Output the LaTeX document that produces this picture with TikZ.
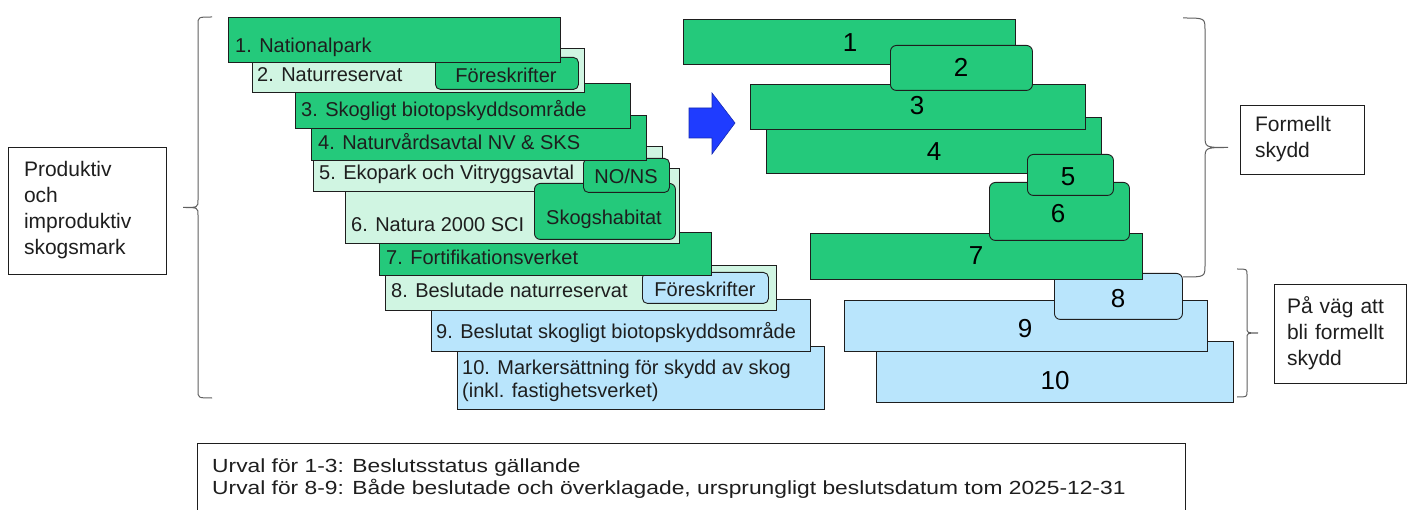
\documentclass[tikz,border=0pt]{standalone}
\usepackage{fontspec}
\setmainfont{Liberation Sans}
\newfontfamily\widefont[FakeStretch=1.2]{Liberation Sans}
\definecolor{dkgreen}{HTML}{24C97B}
\definecolor{ltgreen}{HTML}{D0F5E2}
\definecolor{ltblue}{HTML}{B9E5FC}
\definecolor{arrowblue}{HTML}{1F3CFF}
\definecolor{edge}{HTML}{1E1E1E}
% brace: end x, line x, tip x, top y, bottom y
\newcommand{\sidebrace}[5]{%
    \pgfmathsetmacro\ym{(#4+#5)/2}%
    \pgfmathsetmacro\bv{0.55*abs(#2-#1)}%
    \draw[brc] (#1,#4) .. controls (#2,#4) .. (#2,{#4+\bv}) -- (#2,{\ym-\bv})
        .. controls (#2,\ym) .. (#3,\ym) .. controls (#2,\ym) .. (#2,{\ym+\bv})
        -- (#2,{#5-\bv}) .. controls (#2,#5) .. (#1,#5);
}

\begin{document}
\begin{tikzpicture}[x=1pt, y=-1pt,
    box/.style={draw=edge, line width=0.9pt, anchor=north west, inner sep=0pt},
    lbl/.style={anchor=base west, inner sep=0pt, text=edge, font=\fontsize{20}{24}\selectfont},
    tag/.style={anchor=base, inner sep=0pt, text=edge, font=\fontsize{20}{24}\selectfont},
    num/.style={anchor=base, inner sep=0pt, text=black, font=\fontsize{26}{30}\selectfont},
    side/.style={draw=edge, line width=0.9pt, align=left, inner ysep=0pt, text=edge, font=\fontsize{21}{26}\selectfont},
    urv/.style={anchor=base west, inner sep=0pt, text=edge, font=\widefont\fontsize{19}{22}\selectfont},
    brc/.style={draw=gray!75!black, line width=1pt}]
    \useasboundingbox (0,0) rectangle (1408,510);
    \clip (0,0) rectangle (1408,510);

    % Left stack (drawn bottom up)
    \foreach \nm/\xa/\ya/\xb/\yb/\col/\rc in {
        b10/457/346/824/409/ltblue/0pt,
        b9/431/299/810/351/ltblue/0pt,
        b8/385/265/776/310/ltgreen/0pt,
        fo8/642/272/768/303/ltblue/5pt,
        b7/379/232/711/275/dkgreen/0pt,
        b6/345/168/679/243/ltgreen/0pt,
        b5/313/146/662/191/ltgreen/0pt,
        skog/534/183/675/239/dkgreen/6pt,
        nons/583/158/669/192/dkgreen/5pt,
        b4/311/115/646/160/dkgreen/0pt,
        b3/295/83/630/128/dkgreen/0pt,
        b2/252/48/584/92/ltgreen/0pt,
        fo2/435/57/578/89/dkgreen/5pt,
        b1/228/17/560/62/dkgreen/0pt} {
        \node[box, fill=\col, rounded corners=\rc, minimum width={\xb-\xa}, minimum height={\yb-\ya}] (\nm) at (\xa,\ya) {};
    }
    \node[lbl] (t1) at (235,53) {1. Nationalpark};
    \node[lbl] (t2) at (257,82) {2. Naturreservat};
    \node[tag] (tfo2) at (506,83) {Föreskrifter};
    \node[lbl] (t3) at (301,117) {3. Skogligt biotopskyddsområde};
    \node[lbl] (t4) at (318,150) {4. Naturvårdsavtal NV \& SKS};
    \node[lbl] (t5) at (319,180) {5. Ekopark och Vitryggsavtal};
    \node[tag] (tnons) at (626,184) {NO/NS};
    \node[lbl] (t6) at (351,232) {6. Natura 2000 SCI};
    \node[tag] (tskog) at (604,225) {Skogshabitat};
    \node[lbl] (t7) at (386,265) {7. Fortifikationsverket};
    \node[lbl] (t8) at (391,298) {8. Beslutade naturreservat};
    \node[tag] (tfo8) at (705,297) {Föreskrifter};
    \node[lbl] (t9) at (436,339) {9. Beslutat skogligt biotopskyddsområde};
    \node[lbl] (t10) at (462,375) {10. Markersättning för skydd av skog};
    \node[lbl] (t10b) at (462,397) {(inkl. fastighetsverket)};

    % Arrow
    \filldraw[fill=arrowblue, draw=arrowblue!70!black, line width=0.6pt]
        (689,108) -- (712,108) -- (712,93) -- (735,123) -- (712,154) -- (712,138) -- (689,138) -- cycle;

    % Right stack
    \foreach \n/\xa/\ya/\xb/\yb/\col/\rc in {
        10/876/341/1233/402/ltblue/0pt,
        9/844/300/1207/351/ltblue/0pt,
        8/1054/273/1182/319/ltblue/6pt,
        7/810/233/1142/279/dkgreen/0pt,
        6/989/182/1129/240/dkgreen/6pt,
        4/766/117/1101/173/dkgreen/0pt,
        5/1027/154/1113/195/dkgreen/6pt,
        3/750/84/1085/129/dkgreen/0pt,
        1/683/19/1015/64/dkgreen/0pt,
        2/890/45/1032/90/dkgreen/6pt} {
        \node[box, fill=\col, rounded corners=\rc, minimum width={\xb-\xa}, minimum height={\yb-\ya}] (r\n) at (\xa,\ya) {};
    }
    \foreach \n/\cx/\by in {1/850/52, 2/961/77, 3/917/115, 4/934/161, 5/1068/186,
        6/1058/223, 7/976/265, 8/1118/308, 9/1025/338, 10/1055/389} {
        \node[num] (n\n) at (\cx,\by) {\n};
    }

    % Braces and side boxes
    \sidebrace{212}{198}{183}{17}{398}
    \sidebrace{1183}{1205}{1228}{18}{277}
    \sidebrace{1237}{1247}{1258}{269}{397}
    \node[side, text width=126pt, inner xsep=16pt, minimum height=127pt] (prod) at (87,210.5)
        {Produktiv\\och\\improduktiv\\skogsmark};
    \node[side, text width=94pt, inner xsep=15pt, minimum height=69pt] (formellt) at (1302,139.5)
        {Formellt\\skydd};
    \node[side, text width=106pt, inner xsep=13pt, minimum height=99pt] (pavag) at (1340,333.5)
        {På väg att\\bli formellt\\skydd};

    % Selection note
    \node[box, minimum width=988, minimum height=100] (urval) at (197,443) {};
    \node[urv] (u1) at (212,472) {Urval för 1-3: Beslutsstatus gällande};
    \node[urv] (u2) at (212,494) {Urval för 8-9: Både beslutade och överklagade, ursprungligt beslutsdatum tom 2025-12-31};
\end{tikzpicture}
\end{document}
